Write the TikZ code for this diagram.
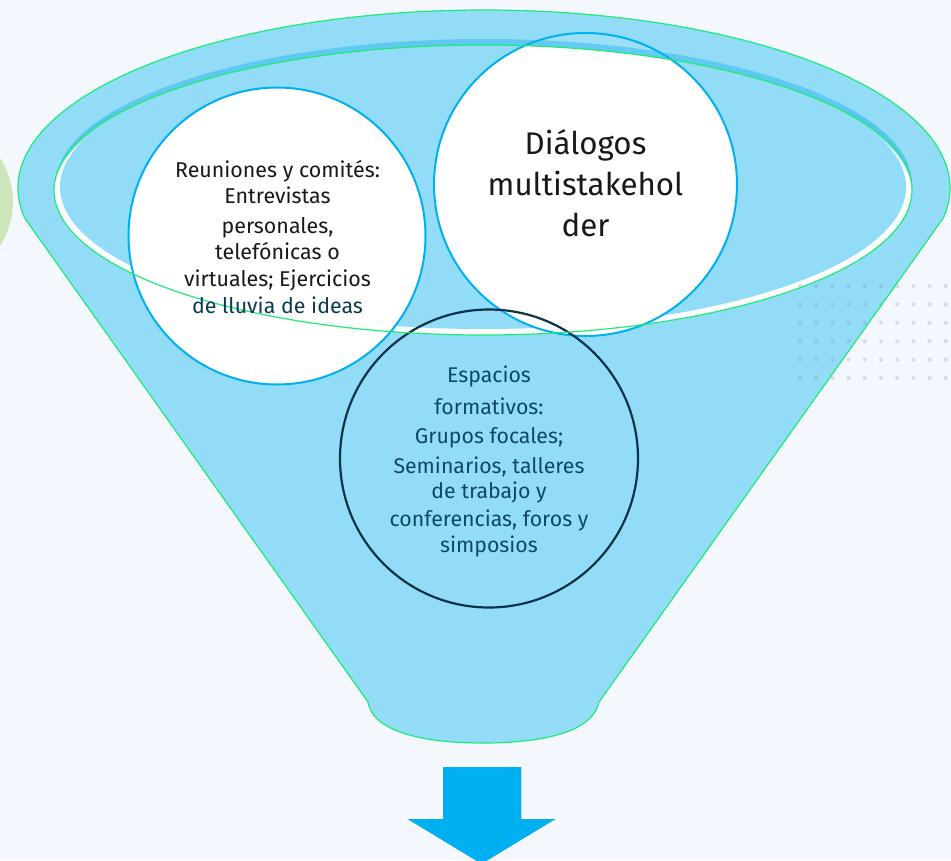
\documentclass[tikz,border=0pt]{standalone}
\usepackage{fontspec}
\setmainfont{Fira Sans}
\definecolor{bgc}{RGB}{244,248,254}
\definecolor{funnelblue}{RGB}{146,220,247}
\definecolor{bandblue}{RGB}{86,198,241}
\definecolor{rimgreen}{RGB}{30,236,118}
\definecolor{ringcyan}{RGB}{0,176,240}
\definecolor{darkring}{RGB}{12,52,72}
\definecolor{darktext}{RGB}{14,72,100}
\definecolor{leafgreen}{RGB}{205,230,185}
\definecolor{dotgray}{RGB}{120,140,155}
\tikzset{
  txt/.style={inner sep=0pt, anchor=base, text=black!90},
  lefttxt/.style={txt, font=\fontsize{21.4}{24}\selectfont},
  righttxt/.style={txt, font=\fontsize{31.3}{36}\selectfont},
  bottxt/.style={txt, text=darktext, font=\fontsize{21.3}{24}\selectfont},
  whitecircle/.style={circle, inner sep=0pt, fill=white},
  greenline/.style={draw=rimgreen, line width=1.2pt},
}
\begin{document}
\begin{tikzpicture}[x=1pt, y=-1pt]
\useasboundingbox (0,0) rectangle (951,860);
\clip (0,0) rectangle (951,860);
\fill[bgc] (0,0) rectangle (951,860);
% left green circle
\fill[leafgreen] (-68,202) circle[radius=81];
% funnel body
\fill[funnelblue] (484,188) ++(170.3:466 and 178)
  arc[start angle=170.3, end angle=369.7, x radius=466, y radius=178]
  -- (599,702) .. controls (592,736) and (530,743) .. (483,743)
  .. controls (436,743) and (374,736) .. (368,702) -- cycle;
% inner ellipse with bevel
\fill[bandblue] (484,184) ellipse[x radius=428, y radius=145];
\begin{scope}
  \clip (483,190) ellipse[x radius=429, y radius=145];
  \fill[funnelblue] (483,190) ellipse[x radius=430, y radius=146];
  \fill[white!70!bgc] (483,193) ellipse[x radius=429, y radius=145];
\end{scope}
\fill[funnelblue] (483,187) ellipse[x radius=423, y radius=142];
% dots
\foreach \i in {0,...,9} {
  \foreach \j in {0,...,5} {
    \fill[dotgray, opacity=0.25] ({800+16.2*\i},{286+18.4*\j}) circle[radius=2.1];
  }
}
% circles (fills)
\node[whitecircle, minimum size=297pt] (c1) at (277,236) {};
\node[whitecircle, minimum size=303pt] (c2) at (585.5,184.5) {};
% rim overlay at the top
\begin{scope}
  \clip (0,0) rectangle (951,110);
  \fill[funnelblue, opacity=0.9, even odd rule] (484,188) ellipse[x radius=466, y radius=178]
    (483,190) ellipse[x radius=429, y radius=145];
  \fill[bandblue, opacity=0.8, even odd rule] (484,184) ellipse[x radius=428, y radius=145]
    (483,190) ellipse[x radius=429, y radius=145];
\end{scope}
% circle outlines
\draw[ringcyan, line width=2pt] (c1.center) circle[radius=148.5];
\draw[ringcyan, line width=2pt] (c2.center) circle[radius=151.5];
\node[circle, inner sep=0pt, minimum size=298pt, draw=darkring, line width=2.2pt] (c3) at (489,458.5) {};
% green outlines on top
\draw[greenline] (484,188) ++(170.3:466 and 178)
  arc[start angle=170.3, end angle=369.7, x radius=466, y radius=178]
  -- (599,702) .. controls (592,736) and (530,743) .. (483,743)
  .. controls (436,743) and (374,736) .. (368,702) -- cycle;
\draw[greenline] (483,190) ellipse[x radius=429, y radius=145];
% texts left circle
\node[lefttxt] (l1) at (277.5,177.7) {Reuniones y comités:};
\node[lefttxt] (l2) at (277.5,203.3) {Entrevistas};
\node[lefttxt] (l3) at (277.5,233.3) {personales,};
\node[lefttxt] (l4) at (277.5,259.3) {telefónicas o};
\node[lefttxt] (l5) at (277.5,286.7) {virtuales; Ejercicios};
\node[lefttxt, text=darktext!80!black] (l6) at (277.5,313.3) {de lluvia de ideas};
% texts right circle
\node[righttxt] (r1) at (585.5,154.3) {Diálogos};
\node[righttxt] (r2) at (585.5,195.7) {multistakehol};
\node[righttxt] (r3) at (585.5,236) {der};
% texts bottom circle
\node[bottxt] (b1) at (489,382.7) {Espacios};
\node[bottxt] (b2) at (489,414) {formativos:};
\node[bottxt] (b3) at (489,443.3) {Grupos focales;};
\node[bottxt] (b4) at (489,473.3) {Seminarios, talleres};
\node[bottxt] (b5) at (489,498.3) {de trabajo y};
\node[bottxt] (b6) at (489,526.7) {conferencias, foros y};
\node[bottxt] (b7) at (489,552.7) {simposios};
% arrow
\filldraw[fill=ringcyan, draw=white, line width=1.5pt] (442,766) -- (522,766) -- (522,818) -- (559,818)
  -- (481.5,865) -- (404,818) -- (442,818) -- cycle;
\end{tikzpicture}
\end{document}
